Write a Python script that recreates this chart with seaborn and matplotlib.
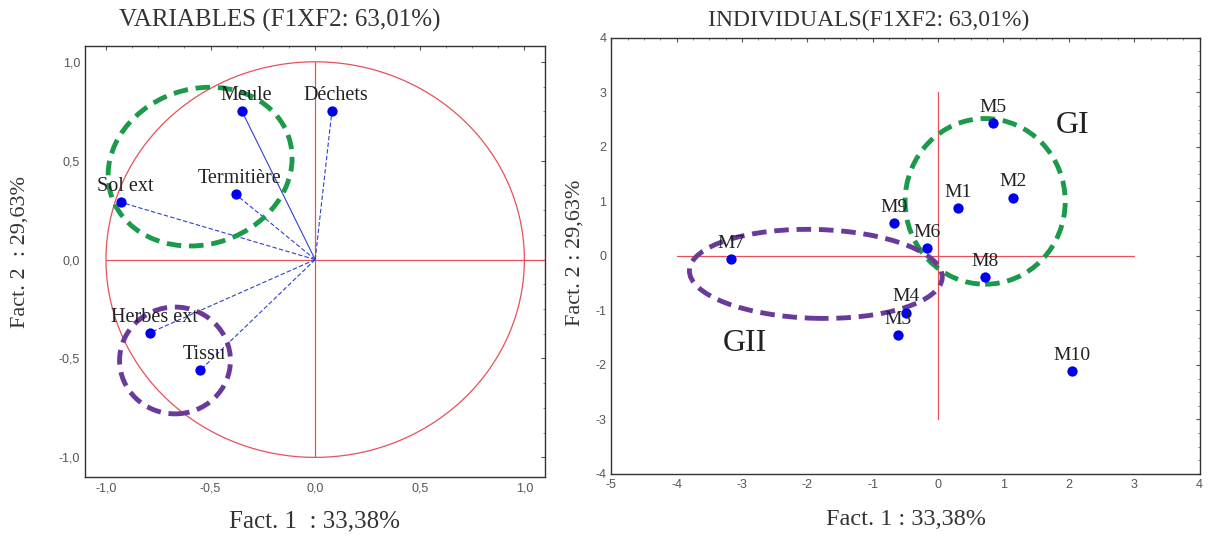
import matplotlib
matplotlib.use("Agg")
import matplotlib.pyplot as plt
import seaborn as sns
import numpy as np
import pandas as pd
from matplotlib.patches import Ellipse
from matplotlib.ticker import FuncFormatter, AutoMinorLocator

# ---- data ----
var_names = ["Meule", "Déchets", "Sol ext", "Termitière", "Herbes ext", "Tissu"]
var_f1 = [-0.35, 0.08, -0.93, -0.38, -0.79, -0.55]
var_f2 = [0.75, 0.75, 0.29, 0.33, -0.37, -0.56]
var_dashed = [False, True, True, True, True, True]

ind_names = ["M1", "M2", "M3", "M4", "M5", "M6", "M7", "M8", "M9", "M10"]
ind_f1 = [0.30, 1.14, -0.62, -0.49, 0.84, -0.17, -3.17, 0.72, -0.68, 2.05]
ind_f2 = [0.87, 1.07, -1.46, -1.04, 2.44, 0.15, -0.05, -0.39, 0.61, -2.11]

left_ticks = [-1.0, -0.5, 0.0, 0.5, 1.0]
right_xticks = [-5, -4, -3, -2, -1, 0, 1, 2, 3, 4]
right_yticks = [-4, -3, -2, -1, 0, 1, 2, 3, 4]

sns.set_theme(style="white")
plt.rcParams["font.family"] = ["Liberation Serif", "DejaVu Serif"]
plt.rcParams["axes.unicode_minus"] = False

fig = plt.figure(figsize=(12.08, 5.41), dpi=100)
ax1 = fig.add_axes([0.0704, 0.118, 0.381, 0.797])
ax2 = fig.add_axes([0.506, 0.124, 0.487, 0.806])

blue = "#0000ee"
red = "#e8505a"
green = "#1a9a4a"
purple = "#6a3a9a"
txt = "#333333"

def comma(v, pos):
    return f"{v:.1f}".replace(".", ",")

for ax in (ax1, ax2):
    for s in ax.spines.values():
        s.set_color("#333333")
        s.set_linewidth(1.0)
    ax.tick_params(direction="in", top=True, right=True, length=3, width=0.8,
                   colors="#555555", labelsize=9, labelcolor="#555555")
    ax.tick_params(which="minor", direction="in", top=True, right=True, length=1.5,
                   width=0.6, color="#777777")
    ax.xaxis.set_minor_locator(AutoMinorLocator(4))
    ax.yaxis.set_minor_locator(AutoMinorLocator(4))

# ---- left: variables ----
t = np.linspace(0, 2 * np.pi, 400)
ax1.plot(np.cos(t), np.sin(t), color=red, lw=0.9, zorder=1)
ax1.plot([-1, 1.1], [0, 0], color=red, lw=0.9, zorder=1)
ax1.plot([0, 0], [-1, 1], color=red, lw=0.9, zorder=1)
for x, y, d in zip(var_f1, var_f2, var_dashed):
    ax1.plot([0, x], [0, y], color="#3040d0", lw=0.8,
             ls=(0, (4, 2)) if d else "-", zorder=2)
dfv = pd.DataFrame({"F1": var_f1, "F2": var_f2, "name": var_names})
sns.scatterplot(data=dfv, x="F1", y="F2", ax=ax1, color=blue, s=55,
                edgecolor=blue, linewidth=0, zorder=4)
for x, y, n in zip(var_f1, var_f2, var_names):
    ax1.annotate(n, (x, y), xytext=(3, 8), textcoords="offset points",
                 ha="center", va="baseline", fontsize=14.5, color="#222222", zorder=5)
ax1.add_patch(Ellipse((-0.55, 0.47), 0.9, 0.78, angle=25, fill=False,
                      ec=green, lw=3.5, ls=(0, (3, 1.6)), zorder=3))
ax1.add_patch(Ellipse((-0.67, -0.51), 0.53, 0.54, fill=False,
                      ec=purple, lw=3.5, ls=(0, (3, 1.6)), zorder=3))
ax1.set_xlim(-1.1, 1.1)
ax1.set_ylim(-1.1, 1.08)
ax1.set_xticks(left_ticks)
ax1.set_yticks(left_ticks)
ax1.xaxis.set_major_formatter(FuncFormatter(comma))
ax1.yaxis.set_major_formatter(FuncFormatter(comma))
ax1.set_xlabel("Fact. 1  : 33,38%", fontsize=18, color=txt)
ax1.set_ylabel("Fact. 2  : 29,63%", fontsize=16, color=txt)
ax1.xaxis.set_label_coords(0.498, -0.102)
ax1.yaxis.set_label_coords(-0.141, 0.522)

# ---- right: individuals ----
ax2.plot([-4, 3], [0, 0], color=red, lw=0.9, zorder=1)
ax2.plot([0, 0], [-3, 3], color=red, lw=0.9, zorder=1)
dfi = pd.DataFrame({"F1": ind_f1, "F2": ind_f2, "name": ind_names})
sns.scatterplot(data=dfi, x="F1", y="F2", ax=ax2, color=blue, s=55,
                edgecolor=blue, linewidth=0, zorder=4)
for x, y, n in zip(ind_f1, ind_f2, ind_names):
    ax2.annotate(n, (x, y), xytext=(0, 8), textcoords="offset points",
                 ha="center", va="baseline", fontsize=14, color="#222222", zorder=5)
ax2.add_patch(Ellipse((0.72, 1.0), 2.45, 3.04, fill=False,
                      ec=green, lw=3.5, ls=(0, (3, 1.6)), zorder=3))
ax2.add_patch(Ellipse((-1.87, -0.33), 3.87, 1.63, angle=-2, fill=False,
                      ec=purple, lw=3.5, ls=(0, (3, 1.6)), zorder=3))
ax2.text(2.05, 2.4, "GI", fontsize=23, color="#222222", ha="center", va="center")
ax2.text(-2.95, -1.6, "GII", fontsize=23, color="#222222", ha="center", va="center")
ax2.set_xlim(-5, 4)
ax2.set_ylim(-4, 4)
ax2.set_xticks(right_xticks)
ax2.set_yticks(right_yticks)
ax2.set_xlabel("Fact. 1 : 33,38%", fontsize=17.5, color=txt)
ax2.set_ylabel("Fact. 2 : 29,63%", fontsize=16, color=txt)
ax2.xaxis.set_label_coords(0.501, -0.105)
ax2.yaxis.set_label_coords(-0.061, 0.507)

for ax in (ax1, ax2):
    ax.xaxis.label.set_va("center")
    ax.yaxis.label.set_va("center")
    for lab in ax.get_xticklabels() + ax.get_yticklabels():
        lab.set_family(["Liberation Sans", "DejaVu Sans"])

fig.text(280 / 1208, 1 - 20 / 541, "VARIABLES (F1XF2: 63,01%)", fontsize=18,
         color=txt, ha="center", va="center")
fig.text(869 / 1208, 1 - 20 / 541, "INDIVIDUALS(F1XF2: 63,01%)", fontsize=17,
         color=txt, ha="center", va="center")

fig.savefig("out.png", dpi=100)
